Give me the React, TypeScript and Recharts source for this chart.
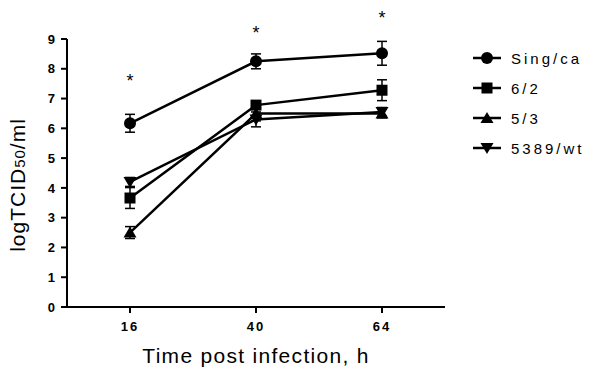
import React from 'react';
import { ComposedChart, Line, XAxis, YAxis, ErrorBar, Legend, ReferenceDot } from 'recharts';

const times = [16, 40, 64];
const singCa = [6.17, 8.25, 8.52];
const singCaErr = [0.3, 0.25, 0.4];
const r62 = [3.66, 6.78, 7.28];
const r62Err = [0.35, 0.1, 0.35];
const r53 = [2.5, 6.5, 6.5];
const r53Err = [0.2, 0.25, 0.15];
const wt5389 = [4.2, 6.3, 6.55];
const wt5389Err = [0.15, 0.25, 0.15];
const starValues = [7.7, 9.3, 9.8];
const yTicks = [0, 1, 2, 3, 4, 5, 6, 7, 8, 9];
const seriesNames = ['Sing/ca', '6/2', '5/3', '5389/wt'];
const shapes = ['circle', 'square', 'up', 'down'];

const data = times.map((t, i) => ({
  t,
  sing: singCa[i], singErr: singCaErr[i],
  r62: r62[i], r62Err: r62Err[i],
  r53: r53[i], r53Err: r53Err[i],
  wt: wt5389[i], wtErr: wt5389Err[i],
}));

const FONT = '"Liberation Sans", Arial, Helvetica, sans-serif';

function Marker({ cx, cy, kind }: { cx: number; cy: number; kind: string }) {
  if (kind === 'circle') return <circle cx={cx} cy={cy} r={6} fill="#000" />;
  if (kind === 'square') return <rect x={cx - 5.5} y={cy - 5.5} width={11} height={11} fill="#000" />;
  if (kind === 'up') return <polygon points={`${cx},${cy - 6} ${cx + 6.5},${cy + 5} ${cx - 6.5},${cy + 5}`} fill="#000" />;
  return <polygon points={`${cx},${cy + 6} ${cx + 6.5},${cy - 5} ${cx - 6.5},${cy - 5}`} fill="#000" />;
}

const makeDot = (kind: string) => (props: any) => {
  const { cx, cy, index } = props;
  if (cx == null || cy == null) return <g key={`d-${kind}-${index}`} />;
  return <g key={`d-${kind}-${index}`}><Marker cx={cx} cy={cy} kind={kind} /></g>;
};

const StarShape = (props: any) => {
  const { cx, cy } = props;
  return (
    <text x={cx} y={cy + 9} textAnchor="middle" fontFamily={FONT} fontSize={18} fill="#000">*</text>
  );
};

const renderLegend = () => (
  <div style={{ fontFamily: FONT }}>
    {seriesNames.map((name, i) => (
      <div key={name} style={{ display: 'flex', alignItems: 'center', height: 30 }}>
        <svg width={30} height={16} style={{ marginRight: 9 }}>
          <line x1={1} y1={8} x2={29} y2={8} stroke="#000" strokeWidth={2.5} />
          <Marker cx={15} cy={8} kind={shapes[i]} />
        </svg>
        <span style={{ fontSize: 15, letterSpacing: 3, color: '#000' }}>{name}</span>
      </div>
    ))}
  </div>
);

const YLabel = () => (
  <text x={0} y={0} transform="translate(25,185) rotate(-90)" textAnchor="middle" fontFamily={FONT} fontSize={21} letterSpacing={1} fill="#000">
    logTCID<tspan fontSize={15}>50</tspan>/ml
  </text>
);

export default function App() {
  const lineProps = { stroke: '#000', strokeWidth: 2.5, isAnimationActive: false, activeDot: false as const };
  return (
    <div style={{ position: 'absolute', left: 0, top: 0, background: '#fff' }}>
      <ComposedChart width={600} height={369} data={data} margin={{ top: 39, right: 155, bottom: 0, left: 0 }}>
        <XAxis
          dataKey="t"
          type="number"
          domain={[4, 76]}
          ticks={times}
          height={62}
          tickSize={6}
          tickMargin={9}
          axisLine={{ stroke: '#000', strokeWidth: 2 }}
          tickLine={{ stroke: '#000', strokeWidth: 2 }}
          tick={{ fill: '#000', fontSize: 13, fontWeight: 'bold', fontFamily: FONT, letterSpacing: 2 }}
          label={{ value: 'Time post infection, h', position: 'insideBottom', offset: 6, fill: '#000', fontSize: 21, fontFamily: FONT, letterSpacing: 1.3 }}
        />
        <YAxis
          type="number"
          domain={[0, 9]}
          ticks={yTicks}
          width={67}
          tickSize={6}
          tickMargin={6}
          axisLine={{ stroke: '#000', strokeWidth: 2 }}
          tickLine={{ stroke: '#000', strokeWidth: 2 }}
          tick={{ fill: '#000', fontSize: 13, fontWeight: 'bold', fontFamily: FONT }}
          label={<YLabel />}
        />
        <Line dataKey="wt" {...lineProps} dot={makeDot('down')}>
          <ErrorBar dataKey="wtErr" width={5} stroke="#000" strokeWidth={1.5} direction="y" />
        </Line>
        <Line dataKey="r53" {...lineProps} dot={makeDot('up')}>
          <ErrorBar dataKey="r53Err" width={5} stroke="#000" strokeWidth={1.5} direction="y" />
        </Line>
        <Line dataKey="r62" {...lineProps} dot={makeDot('square')}>
          <ErrorBar dataKey="r62Err" width={5} stroke="#000" strokeWidth={1.5} direction="y" />
        </Line>
        <Line dataKey="sing" {...lineProps} dot={makeDot('circle')}>
          <ErrorBar dataKey="singErr" width={5} stroke="#000" strokeWidth={1.5} direction="y" />
        </Line>
        {times.map((t, i) => (
          <ReferenceDot key={`star-${t}`} x={t} y={starValues[i]} ifOverflow="visible" shape={<StarShape />} />
        ))}
        <Legend
          layout="horizontal"
          verticalAlign="middle"
          align="center"
          width={130}
          content={renderLegend}
          wrapperStyle={{ left: 472, top: 43, width: 130, height: 130 }}
        />
      </ComposedChart>
    </div>
  );
}
